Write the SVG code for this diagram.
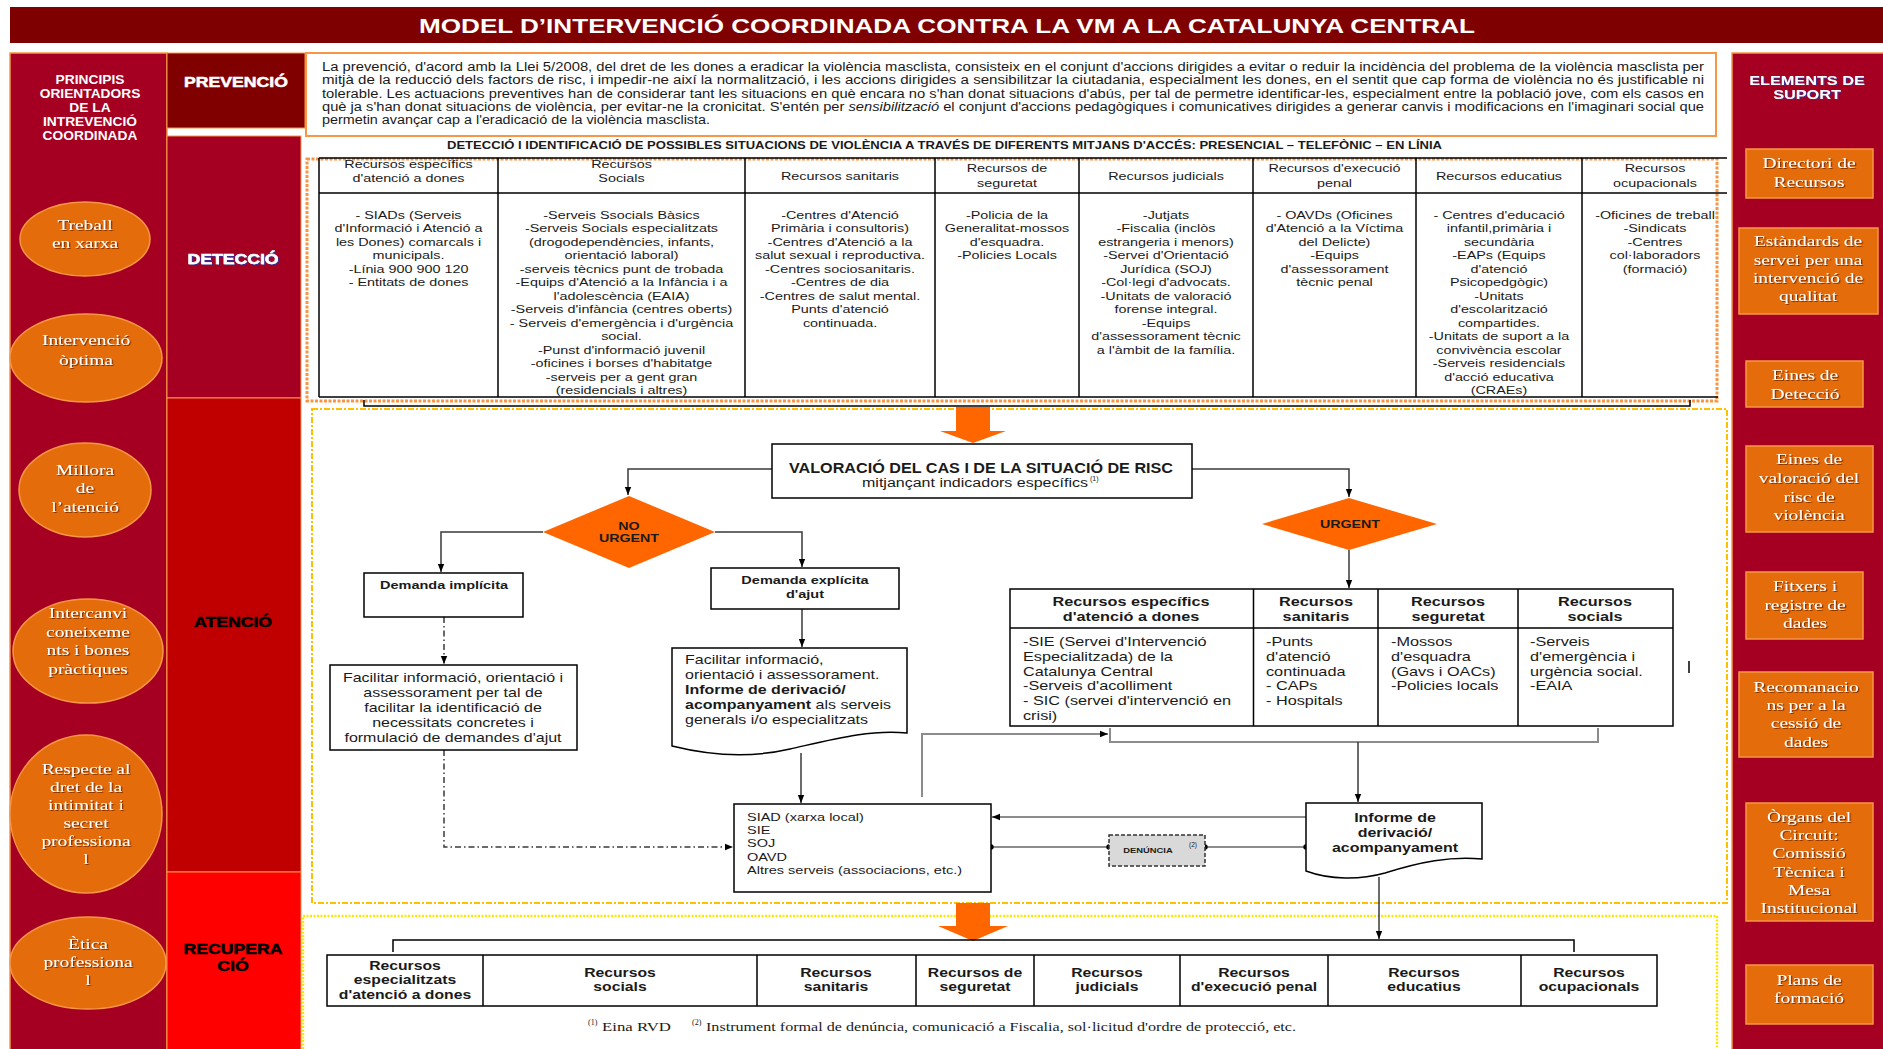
<svg xmlns="http://www.w3.org/2000/svg" width="1883" height="1049" viewBox="0 0 1883 1049">
<defs>
<style>
.sans{font-family:"Liberation Sans",Arial,sans-serif;fill:#1a1a1a}
.serif{font-family:"Liberation Serif","Times New Roman",serif;fill:#fff;filter:url(#ws)}
.b{font-weight:bold}
.c{text-anchor:middle}
.w{fill:#fff}
.ln{fill:none;stroke:#000;stroke-width:1.5}
.cn{fill:none;stroke:#3a3a3a;stroke-width:1.5}
.gr{fill:none;stroke:#8c8c8c;stroke-width:2}
.dd{stroke-dasharray:6 3 1.5 3}
.orb{fill:#E46C0A;stroke:#F79646;stroke-width:1.5}
.box{fill:#fff;stroke:#000;stroke-width:1.5}
.dt{font-size:11.5px}
.ut{font-size:13px}
.rt{font-size:12.6px}
.ph{font-size:14px;font-weight:bold;stroke-width:0.5}
.ci{font-size:15.5px}
.pg{font-size:12px}
.big{fill:#FF6600}
</style>
<filter id="ws" x="-10%" y="-20%" width="130%" height="150%"><feDropShadow dx="1" dy="1" stdDeviation="0.5" flood-color="#5a1e00" flood-opacity="0.75"/></filter>
<filter id="bs" x="-10%" y="-20%" width="130%" height="150%"><feDropShadow dx="1" dy="1" stdDeviation="0.4" flood-color="#3030a0" flood-opacity="0.9"/></filter>
<marker id="ar" viewBox="0 0 10 10" refX="10" refY="5" markerWidth="8" markerHeight="8" orient="auto" markerUnits="userSpaceOnUse"><path d="M0,1 L10,5 L0,9 Z" fill="#000"/></marker>
<marker id="dot" viewBox="0 0 10 10" refX="5" refY="5" markerWidth="6" markerHeight="6" markerUnits="userSpaceOnUse"><circle cx="5" cy="5" r="4.5" fill="#000"/></marker>
</defs>
<rect width="1883" height="1049" fill="#fff"/>

<g id="title">
<rect x="10" y="7" width="1873" height="36" fill="#7F0000"/>
<text class="sans b c w" style="fill:#fff" x="947" y="33" font-size="21" textLength="1056" lengthAdjust="spacingAndGlyphs">MODEL D’INTERVENCIÓ COORDINADA CONTRA LA VM A LA CATALUNYA CENTRAL</text>
</g>

<g id="principis">
<rect x="10" y="53" width="157" height="1000" fill="#A50021" stroke="#F79646" stroke-width="1.5"/>
<text class="sans b c" style="fill:#fff" font-size="13" transform="matrix(1.06 0 0 1 90 0)"><tspan x="0" y="84">PRINCIPIS</tspan><tspan x="0" y="98">ORIENTADORS</tspan><tspan x="0" y="112">DE LA</tspan><tspan x="0" y="126">INTREVENCIÓ</tspan><tspan x="0" y="140">COORDINADA</tspan></text>
</g>
<g id="p-treball"><ellipse class="orb" cx="85" cy="239" rx="65" ry="37"/><text class="serif c ci" transform="matrix(1.25 0 0 1 85 0)"><tspan x="0" y="230">Treball</tspan><tspan x="0" y="248">en xarxa</tspan></text></g>
<g id="p-intervencio"><ellipse class="orb" cx="86" cy="358" rx="76" ry="44"/><text class="serif c ci" transform="matrix(1.25 0 0 1 86 0)"><tspan x="0" y="345">Intervenció</tspan><tspan x="0" y="365">òptima</tspan></text></g>
<g id="p-millora"><ellipse class="orb" cx="85" cy="490" rx="66" ry="47"/><text class="serif c ci" transform="matrix(1.25 0 0 1 85 0)"><tspan x="0" y="475">Millora</tspan><tspan x="0" y="493">de</tspan><tspan x="0" y="512">l’atenció</tspan></text></g>
<g id="p-intercanvi"><ellipse class="orb" cx="88" cy="651" rx="75" ry="52"/><text class="serif c ci" transform="matrix(1.25 0 0 1 88 0)"><tspan x="0" y="618">Intercanvi</tspan><tspan x="0" y="637">coneixeme</tspan><tspan x="0" y="655">nts i bones</tspan><tspan x="0" y="674">pràctiques</tspan></text></g>
<g id="p-respecte"><ellipse class="orb" cx="86" cy="814" rx="76" ry="79"/><text class="serif c ci" transform="matrix(1.25 0 0 1 86 0)"><tspan x="0" y="774">Respecte al</tspan><tspan x="0" y="792">dret de la</tspan><tspan x="0" y="810">intimitat i</tspan><tspan x="0" y="828">secret</tspan><tspan x="0" y="846">professiona</tspan><tspan x="0" y="864">l</tspan></text></g>
<g id="p-etica"><ellipse class="orb" cx="88" cy="963" rx="78" ry="46"/><text class="serif c ci" transform="matrix(1.25 0 0 1 88 0)"><tspan x="0" y="949">Ètica</tspan><tspan x="0" y="967">professiona</tspan><tspan x="0" y="985">l</tspan></text></g>

<g id="ph-prevencio"><rect x="167" y="53" width="138" height="75" fill="#800000" stroke="#F79646" stroke-width="1"/><text class="sans c ph" style="fill:#fff;stroke:#fff" transform="matrix(1.26 0 0 1 236 0)"><tspan x="0" y="87">PREVENCIÓ</tspan></text></g>
<g id="ph-deteccio"><rect x="167" y="136" width="134" height="262" fill="#A50021" stroke="#F79646" stroke-width="1"/><text class="sans c ph" style="fill:#fff;stroke:#fff;filter:url(#bs)" transform="matrix(1.26 0 0 1 233 0)"><tspan x="0" y="264">DETECCIÓ</tspan></text></g>
<g id="ph-atencio"><rect x="167" y="398" width="134" height="474" fill="#C00000" stroke="#F79646" stroke-width="1"/><text class="sans c ph" style="fill:#000;stroke:#000" transform="matrix(1.26 0 0 1 233 0)"><tspan x="0" y="627">ATENCIÓ</tspan></text></g>
<g id="ph-recuperacio"><rect x="167" y="872" width="134" height="181" fill="#FF0000" stroke="#F79646" stroke-width="1"/><text class="sans c ph" style="fill:#000;stroke:#000" transform="matrix(1.26 0 0 1 233 0)"><tspan x="0" y="954">RECUPERA</tspan><tspan x="0" y="971">CIÓ</tspan></text></g>

<g id="suport">
<rect x="1732" y="53" width="155" height="1000" fill="#A50021" stroke="#F79646" stroke-width="1.5"/>
<text class="sans b c" style="fill:#fff;filter:url(#bs)" font-size="13" transform="matrix(1.25 0 0 1 1807 0)"><tspan x="0" y="85">ELEMENTS DE</tspan><tspan x="0" y="99">SUPORT</tspan></text>
</g>
<g id="s-directori"><rect class="orb" x="1746" y="149" width="127" height="49"/><text class="serif c ci" transform="matrix(1.25 0 0 1 1809 0)"><tspan x="0" y="168">Directori de</tspan><tspan x="0" y="187">Recursos</tspan></text></g>
<g id="s-estandards"><rect class="orb" x="1739" y="228" width="139" height="86"/><text class="serif c ci" transform="matrix(1.25 0 0 1 1808 0)"><tspan x="0" y="246">Estàndards de</tspan><tspan x="0" y="265">servei per una</tspan><tspan x="0" y="283">intervenció de</tspan><tspan x="0" y="301">qualitat</tspan></text></g>
<g id="s-eines-deteccio"><rect class="orb" x="1746" y="361" width="117" height="46"/><text class="serif c ci" transform="matrix(1.25 0 0 1 1805 0)"><tspan x="0" y="380">Eines de</tspan><tspan x="0" y="399">Detecció</tspan></text></g>
<g id="s-eines-valoracio"><rect class="orb" x="1746" y="446" width="127" height="86"/><text class="serif c ci" transform="matrix(1.25 0 0 1 1809 0)"><tspan x="0" y="464">Eines de</tspan><tspan x="0" y="483">valoració del</tspan><tspan x="0" y="502">risc de</tspan><tspan x="0" y="520">violència</tspan></text></g>
<g id="s-fitxers"><rect class="orb" x="1746" y="572" width="117" height="67"/><text class="serif c ci" transform="matrix(1.25 0 0 1 1805 0)"><tspan x="0" y="591">Fitxers i</tspan><tspan x="0" y="610">registre de</tspan><tspan x="0" y="628">dades</tspan></text></g>
<g id="s-recomanacions"><rect class="orb" x="1739" y="672" width="134" height="85"/><text class="serif c ci" transform="matrix(1.25 0 0 1 1806 0)"><tspan x="0" y="692">Recomanacio</tspan><tspan x="0" y="710">ns per a la</tspan><tspan x="0" y="728">cessió de</tspan><tspan x="0" y="747">dades</tspan></text></g>
<g id="s-organs"><rect class="orb" x="1746" y="803" width="127" height="118"/><text class="serif c ci" transform="matrix(1.25 0 0 1 1809 0)"><tspan x="0" y="822">Òrgans del</tspan><tspan x="0" y="840">Circuit:</tspan><tspan x="0" y="858">Comissió</tspan><tspan x="0" y="877">Tècnica i</tspan><tspan x="0" y="895">Mesa</tspan><tspan x="0" y="913">Institucional</tspan></text></g>
<g id="s-plans"><rect class="orb" x="1746" y="965" width="127" height="59"/><text class="serif c ci" transform="matrix(1.25 0 0 1 1809 0)"><tspan x="0" y="985">Plans de</tspan><tspan x="0" y="1003">formació</tspan></text></g>

<g id="prevencio-text">
<rect x="306" y="53" width="1410" height="83" fill="#fff" stroke="#F79646" stroke-width="2"/>
<text class="sans pg" x="322" y="71" textLength="1382" lengthAdjust="spacingAndGlyphs">La prevenció, d'acord amb la Llei 5/2008, del dret de les dones a eradicar la violència masclista, consisteix en el conjunt d'accions dirigides a evitar o reduir la incidència del problema de la violència masclista per</text>
<text class="sans pg" x="322" y="84.3" textLength="1382" lengthAdjust="spacingAndGlyphs">mitjà de la reducció dels factors de risc, i impedir-ne així la normalització, i les accions dirigides a sensibilitzar la ciutadania, especialment les dones, en el sentit que cap forma de violència no és justificable ni</text>
<text class="sans pg" x="322" y="97.6" textLength="1382" lengthAdjust="spacingAndGlyphs">tolerable. Les actuacions preventives han de considerar tant les situacions en què encara no s'han donat situacions d'abús, per tal de permetre identificar-les, especialment entre la població jove, com els casos en</text>
<text class="sans pg" x="322" y="110.9" textLength="1382" lengthAdjust="spacingAndGlyphs">què ja s'han donat situacions de violència, per evitar-ne la cronicitat. S'entén per <tspan font-style="italic">sensibilització</tspan> el conjunt d'accions pedagògiques i comunicatives dirigides a generar canvis i modificacions en l'imaginari social que</text>
<text class="sans pg" x="322" y="124.2" textLength="388" lengthAdjust="spacingAndGlyphs">permetin avançar cap a l'eradicació de la violència masclista.</text>
</g>

<g id="deteccio-table">
<text class="sans b" x="447" y="149" font-size="10" textLength="995" lengthAdjust="spacingAndGlyphs">DETECCIÓ I IDENTIFICACIÓ DE POSSIBLES SITUACIONS DE VIOLÈNCIA A TRAVÉS DE DIFERENTS MITJANS D'ACCÉS: PRESENCIAL – TELEFÒNIC – EN LÍNIA</text>
<rect x="307" y="159" width="1410" height="242" fill="none" stroke="#F79646" stroke-width="3" stroke-dasharray="3 1.5"/>
<path class="ln" d="M319,158 H1727 M319,193 H1727 M319,397 H1718 M319,158 V397 M498,158 V397 M745,158 V397 M935,158 V397 M1079,158 V397 M1253,158 V397 M1416,158 V397 M1582,158 V397"/>
<path class="ln" d="M364,400 V406 H1690 V400"/>
<g class="sans c dt">
<text transform="matrix(1.25 0 0 1 408.5 0)"><tspan x="0" y="168">Recursos específics</tspan><tspan x="0" y="182">d'atenció a dones</tspan></text>
<text transform="matrix(1.25 0 0 1 621.5 0)"><tspan x="0" y="168">Recursos</tspan><tspan x="0" y="182">Socials</tspan></text>
<text transform="matrix(1.25 0 0 1 840 0)"><tspan x="0" y="180">Recursos sanitaris</tspan></text>
<text transform="matrix(1.25 0 0 1 1007 0)"><tspan x="0" y="172">Recursos de</tspan><tspan x="0" y="187">seguretat</tspan></text>
<text transform="matrix(1.25 0 0 1 1166 0)"><tspan x="0" y="180">Recursos judicials</tspan></text>
<text transform="matrix(1.25 0 0 1 1334.5 0)"><tspan x="0" y="172">Recursos d'execució</tspan><tspan x="0" y="187">penal</tspan></text>
<text transform="matrix(1.25 0 0 1 1499 0)"><tspan x="0" y="180">Recursos educatius</tspan></text>
<text transform="matrix(1.25 0 0 1 1655 0)"><tspan x="0" y="172">Recursos</tspan><tspan x="0" y="187">ocupacionals</tspan></text>

<text transform="matrix(1.25 0 0 1 408.5 0)"><tspan x="0" y="219">- SIADs (Serveis</tspan><tspan x="0" y="232.5">d'Informació i Atenció a</tspan><tspan x="0" y="246">les Dones)  comarcals i</tspan><tspan x="0" y="259.5">municipals.</tspan><tspan x="0" y="273">-Línia 900 900 120</tspan><tspan x="0" y="286.5">- Entitats de dones</tspan></text>
<text transform="matrix(1.25 0 0 1 621.5 0)"><tspan x="0" y="219">-Serveis Ssocials Bàsics</tspan><tspan x="0" y="232.5">-Serveis Socials especialitzats</tspan><tspan x="0" y="246">(drogodependències, infants,</tspan><tspan x="0" y="259.5">orientació laboral)</tspan><tspan x="0" y="273">-serveis tècnics punt de trobada</tspan><tspan x="0" y="286.5">-Equips d'Atenció a la Infància i a</tspan><tspan x="0" y="300">l'adolescència (EAIA)</tspan><tspan x="0" y="313.5">-Serveis d'infància (centres oberts)</tspan><tspan x="0" y="327">- Serveis d'emergència i d'urgència</tspan><tspan x="0" y="340.5">social.</tspan><tspan x="0" y="354">-Punst d'informació juvenil</tspan><tspan x="0" y="367.5">-oficines i borses d'habitatge</tspan><tspan x="0" y="381">-serveis per a gent gran</tspan><tspan x="0" y="394.5">(residencials i altres)</tspan></text>
<text transform="matrix(1.25 0 0 1 840 0)"><tspan x="0" y="219">-Centres d'Atenció</tspan><tspan x="0" y="232.5">Primària i consultoris)</tspan><tspan x="0" y="246">-Centres d'Atenció a la</tspan><tspan x="0" y="259.5">salut sexual i reproductiva.</tspan><tspan x="0" y="273">-Centres sociosanitaris.</tspan><tspan x="0" y="286.5">-Centres de dia</tspan><tspan x="0" y="300">-Centres de salut mental.</tspan><tspan x="0" y="313.5">Punts d'atenció</tspan><tspan x="0" y="327">continuada.</tspan></text>
<text transform="matrix(1.25 0 0 1 1007 0)"><tspan x="0" y="219">-Policia de la</tspan><tspan x="0" y="232.5">Generalitat-mossos</tspan><tspan x="0" y="246">d'esquadra.</tspan><tspan x="0" y="259.5">-Policies Locals</tspan></text>
<text transform="matrix(1.25 0 0 1 1166 0)"><tspan x="0" y="219">-Jutjats</tspan><tspan x="0" y="232.5">-Fiscalia (inclòs</tspan><tspan x="0" y="246">estrangeria i menors)</tspan><tspan x="0" y="259.5">-Servei d'Orientació</tspan><tspan x="0" y="273">Jurídica (SOJ)</tspan><tspan x="0" y="286.5">-Col·legi d'advocats.</tspan><tspan x="0" y="300">-Unitats de valoració</tspan><tspan x="0" y="313.5">forense integral.</tspan><tspan x="0" y="327">-Equips</tspan><tspan x="0" y="340.5">d'assessorament tècnic</tspan><tspan x="0" y="354">a l'àmbit de la família.</tspan></text>
<text transform="matrix(1.25 0 0 1 1334.5 0)"><tspan x="0" y="219">- OAVDs (Oficines</tspan><tspan x="0" y="232.5">d'Atenció a la Víctima</tspan><tspan x="0" y="246">del Delicte)</tspan><tspan x="0" y="259.5">-Equips</tspan><tspan x="0" y="273">d'assessorament</tspan><tspan x="0" y="286.5">tècnic penal</tspan></text>
<text transform="matrix(1.25 0 0 1 1499 0)"><tspan x="0" y="219">- Centres d'educació</tspan><tspan x="0" y="232.5">infantil,primària i</tspan><tspan x="0" y="246">secundària</tspan><tspan x="0" y="259.5">-EAPs (Equips</tspan><tspan x="0" y="273">d'atenció</tspan><tspan x="0" y="286.5">Psicopedgògic)</tspan><tspan x="0" y="300">-Unitats</tspan><tspan x="0" y="313.5">d'escolarització</tspan><tspan x="0" y="327">compartides.</tspan><tspan x="0" y="340.5">-Unitats de suport a la</tspan><tspan x="0" y="354">convivència escolar</tspan><tspan x="0" y="367.5">-Serveis residencials</tspan><tspan x="0" y="381">d'acció educativa</tspan><tspan x="0" y="394.5">(CRAEs)</tspan></text>
<text transform="matrix(1.25 0 0 1 1655 0)"><tspan x="0" y="219">-Oficines de treball</tspan><tspan x="0" y="232.5">-Sindicats</tspan><tspan x="0" y="246">-Centres</tspan><tspan x="0" y="259.5">col·laboradors</tspan><tspan x="0" y="273">(formació)</tspan></text>
</g>
</g>

<g id="frames">
<rect x="312" y="409" width="1415" height="494" fill="none" stroke="#FFC000" stroke-width="2" stroke-dasharray="6 2 2 2"/>
<rect x="303" y="916" width="1414" height="140" fill="none" stroke="#FFE600" stroke-width="2.5" stroke-dasharray="2 1.5"/>
<path class="big" d="M956,407 H990 V431 H1006 L973,443 L940,431 H956 Z"/>
<path class="big" d="M956,903 H990 V926 H1008 L973,941 L938,926 H956 Z"/>
</g>

<g id="connectors">
<path class="cn" d="M772,469 H628 V495" marker-end="url(#ar)"/>
<path class="cn" d="M1192,469 H1349 V497" marker-end="url(#ar)"/>
<path class="cn" d="M543,532 H441 V572" marker-end="url(#ar)"/>
<path class="cn" d="M715,532 H802 V567" marker-end="url(#ar)"/>
<path class="cn dd" d="M444,617 V664" marker-end="url(#ar)"/>
<path class="cn" d="M802,609 V647" marker-end="url(#ar)"/>
<path class="cn dd" d="M444,750 V847 H733" marker-end="url(#ar)"/>
<path class="cn" d="M801,753 V803" marker-end="url(#ar)"/>
<path class="gr" d="M922,797 V734 H1108" marker-end="url(#ar)"/>
<path class="cn" d="M1349,550 V588" marker-end="url(#ar)"/>
<path class="gr" d="M1110,728 V742 H1598 V728"/>
<path class="cn" d="M1358,742 V802" marker-end="url(#ar)"/>
<path class="gr" d="M1306,817 H992" marker-end="url(#ar)"/>
<path class="gr" d="M991,847 H1109" marker-start="url(#dot)" marker-end="url(#dot)"/>
<path class="gr" d="M1205,847 H1306" marker-start="url(#dot)" marker-end="url(#dot)"/>
<path class="cn" d="M1379,877 V939" marker-end="url(#ar)"/>
<path class="ln" d="M393,952 V940 H1574 V952"/>
<path class="ln" d="M1689,661 V673"/>
</g>

<g id="valoracio">
<rect class="box" x="772" y="444" width="420" height="54"/>
<text class="sans b" x="789" y="473" font-size="14" textLength="384" lengthAdjust="spacingAndGlyphs">VALORACIÓ DEL CAS I DE LA SITUACIÓ DE RISC</text>
<text class="sans" x="862" y="487" font-size="12" textLength="226" lengthAdjust="spacingAndGlyphs">mitjançant indicadors específics</text>
<text class="sans" x="1090" y="481" font-size="7">(1)</text>
</g>

<g id="no-urgent">
<polygon points="629,496 715,532 629,568 543,532" fill="#FF6600"/>
<text class="sans b c" font-size="11.4" transform="matrix(1.25 0 0 1 629 0)"><tspan x="0" y="530">NO</tspan><tspan x="0" y="542">URGENT</tspan></text>
</g>

<g id="urgent">
<polygon points="1349,498 1437,524 1349,550 1262,524" fill="#FF6600"/>
<text class="sans b c" font-size="11.4" transform="matrix(1.25 0 0 1 1350 0)"><tspan x="0" y="528">URGENT</tspan></text>
</g>

<g id="demanda-implicita">
<rect class="box" x="364" y="573" width="159" height="44"/>
<text class="sans b c" font-size="11.6" transform="matrix(1.25 0 0 1 444 0)"><tspan x="0" y="589">Demanda implícita</tspan></text>
</g>

<g id="demanda-explicita">
<rect class="box" x="711" y="568" width="188" height="41"/>
<text class="sans b c" font-size="11.6" transform="matrix(1.25 0 0 1 805 0)"><tspan x="0" y="584">Demanda explícita</tspan><tspan x="0" y="598">d'ajut</tspan></text>
</g>

<g id="facilitar-implicita">
<rect class="box" x="330" y="665" width="247" height="85"/>
<text class="sans c" font-size="12.8" transform="matrix(1.25 0 0 1 453 0)"><tspan x="0" y="682">Facilitar informació, orientació i</tspan><tspan x="0" y="697">assessorament per tal de</tspan><tspan x="0" y="712">facilitar la identificació de</tspan><tspan x="0" y="727">necessitats concretes i</tspan><tspan x="0" y="742">formulació de demandes d'ajut</tspan></text>
</g>

<g id="facilitar-explicita">
<path class="box" d="M672,648 H907 V733 C870,729 830,740 790,749 C760,756 720,758 672,746 Z"/>
<text class="sans" font-size="12.8" transform="matrix(1.25 0 0 1 685 0)"><tspan x="0" y="664">Facilitar informació,</tspan><tspan x="0" y="679">orientació i  assessorament.</tspan><tspan x="0" y="694" font-weight="bold">Informe de derivació/</tspan><tspan x="0" y="709"><tspan font-weight="bold">acompanyament</tspan> als serveis</tspan><tspan x="0" y="724">generals i/o especialitzats</tspan></text>
</g>

<g id="siad">
<rect class="box" x="734" y="804" width="257" height="88"/>
<text class="sans" font-size="11.6" transform="matrix(1.25 0 0 1 747 0)"><tspan x="0" y="821">SIAD (xarxa local)</tspan><tspan x="0" y="834">SIE</tspan><tspan x="0" y="847">SOJ</tspan><tspan x="0" y="861">OAVD</tspan><tspan x="0" y="874">Altres serveis (associacions, etc.)</tspan></text>
</g>

<g id="denuncia">
<rect x="1109" y="835" width="96" height="31" fill="#D9D9D9" stroke="#333" stroke-width="1.5" stroke-dasharray="4 2"/>
<text class="sans b c" font-size="7.5" transform="matrix(1.25 0 0 1 1148 0)"><tspan x="0" y="853">DENÚNCIA</tspan></text>
<text class="sans" x="1189" y="847" font-size="6.5">(2)</text>
</g>

<g id="informe">
<path class="box" d="M1306,803 H1482 V859 C1450,856 1420,862 1385,873 C1360,880 1330,880 1306,871 Z"/>
<text class="sans b c" font-size="12.8" transform="matrix(1.25 0 0 1 1395 0)"><tspan x="0" y="822">Informe de</tspan><tspan x="0" y="837">derivació/</tspan><tspan x="0" y="852">acompanyament</tspan></text>
</g>

<g id="urgent-table">
<rect class="box" x="1010" y="589" width="663" height="137"/>
<path class="ln" d="M1010,628 H1673 M1253.5,589 V726 M1378,589 V726 M1518,589 V726"/>
<g class="sans b c ut">
<text transform="matrix(1.25 0 0 1 1131 0)"><tspan x="0" y="606">Recursos específics</tspan><tspan x="0" y="621">d'atenció a dones</tspan></text>
<text transform="matrix(1.25 0 0 1 1316 0)"><tspan x="0" y="606">Recursos</tspan><tspan x="0" y="621">sanitaris</tspan></text>
<text transform="matrix(1.25 0 0 1 1448 0)"><tspan x="0" y="606">Recursos</tspan><tspan x="0" y="621">seguretat</tspan></text>
<text transform="matrix(1.25 0 0 1 1595 0)"><tspan x="0" y="606">Recursos</tspan><tspan x="0" y="621">socials</tspan></text>
</g>
<g class="sans ut">
<text transform="matrix(1.25 0 0 1 1023 0)"><tspan x="0" y="646">-SIE (Servei d'Intervenció</tspan><tspan x="0" y="661">Especialitzada) de la</tspan><tspan x="0" y="676">Catalunya Central</tspan><tspan x="0" y="690">-Serveis d'acolliment</tspan><tspan x="0" y="705">- SIC (servei d'intervenció en</tspan><tspan x="0" y="720">crisi)</tspan></text>
<text transform="matrix(1.25 0 0 1 1266 0)"><tspan x="0" y="646">-Punts</tspan><tspan x="0" y="661">d'atenció</tspan><tspan x="0" y="676">continuada</tspan><tspan x="0" y="690">- CAPs</tspan><tspan x="0" y="705">- Hospitals</tspan></text>
<text transform="matrix(1.25 0 0 1 1391 0)"><tspan x="0" y="646">-Mossos</tspan><tspan x="0" y="661">d'esquadra</tspan><tspan x="0" y="676">(Gavs i OACs)</tspan><tspan x="0" y="690">-Policies locals</tspan></text>
<text transform="matrix(1.25 0 0 1 1530 0)"><tspan x="0" y="646">-Serveis</tspan><tspan x="0" y="661">d'emergència i</tspan><tspan x="0" y="676">urgència social.</tspan><tspan x="0" y="690">-EAIA</tspan></text>
</g>
</g>

<g id="recuperacio-table">
<rect class="box" x="327" y="955" width="1330" height="51"/>
<path class="ln" d="M483,955 V1006 M757,955 V1006 M916,955 V1006 M1034,955 V1006 M1180,955 V1006 M1328,955 V1006 M1521,955 V1006"/>
<g class="sans b c rt">
<text transform="matrix(1.25 0 0 1 405 0)"><tspan x="0" y="970">Recursos</tspan><tspan x="0" y="984.5">especialitzats</tspan><tspan x="0" y="999">d'atenció a dones</tspan></text>
<text transform="matrix(1.25 0 0 1 620 0)"><tspan x="0" y="977.5">Recursos</tspan><tspan x="0" y="991.5">socials</tspan></text>
<text transform="matrix(1.25 0 0 1 836 0)"><tspan x="0" y="977.5">Recursos</tspan><tspan x="0" y="991.5">sanitaris</tspan></text>
<text transform="matrix(1.25 0 0 1 975 0)"><tspan x="0" y="977.5">Recursos de</tspan><tspan x="0" y="991.5">seguretat</tspan></text>
<text transform="matrix(1.25 0 0 1 1107 0)"><tspan x="0" y="977.5">Recursos</tspan><tspan x="0" y="991.5">judicials</tspan></text>
<text transform="matrix(1.25 0 0 1 1254 0)"><tspan x="0" y="977.5">Recursos</tspan><tspan x="0" y="991.5">d'execució penal</tspan></text>
<text transform="matrix(1.25 0 0 1 1424 0)"><tspan x="0" y="977.5">Recursos</tspan><tspan x="0" y="991.5">educatius</tspan></text>
<text transform="matrix(1.25 0 0 1 1589 0)"><tspan x="0" y="977.5">Recursos</tspan><tspan x="0" y="991.5">ocupacionals</tspan></text>
</g>
</g>

<g id="footnote" font-family="Liberation Serif, Times New Roman, serif" fill="#1a1a1a">
<text x="588" y="1025" font-size="8">(1)</text>
<text x="602" y="1031" font-size="12.5" textLength="69" lengthAdjust="spacingAndGlyphs">Eina RVD</text>
<text x="692" y="1025" font-size="8">(2)</text>
<text x="706" y="1031" font-size="12.5" textLength="590" lengthAdjust="spacingAndGlyphs">Instrument formal de denúncia, comunicació a Fiscalia, sol·licitud d'ordre de protecció, etc.</text>
</g>
</svg>
